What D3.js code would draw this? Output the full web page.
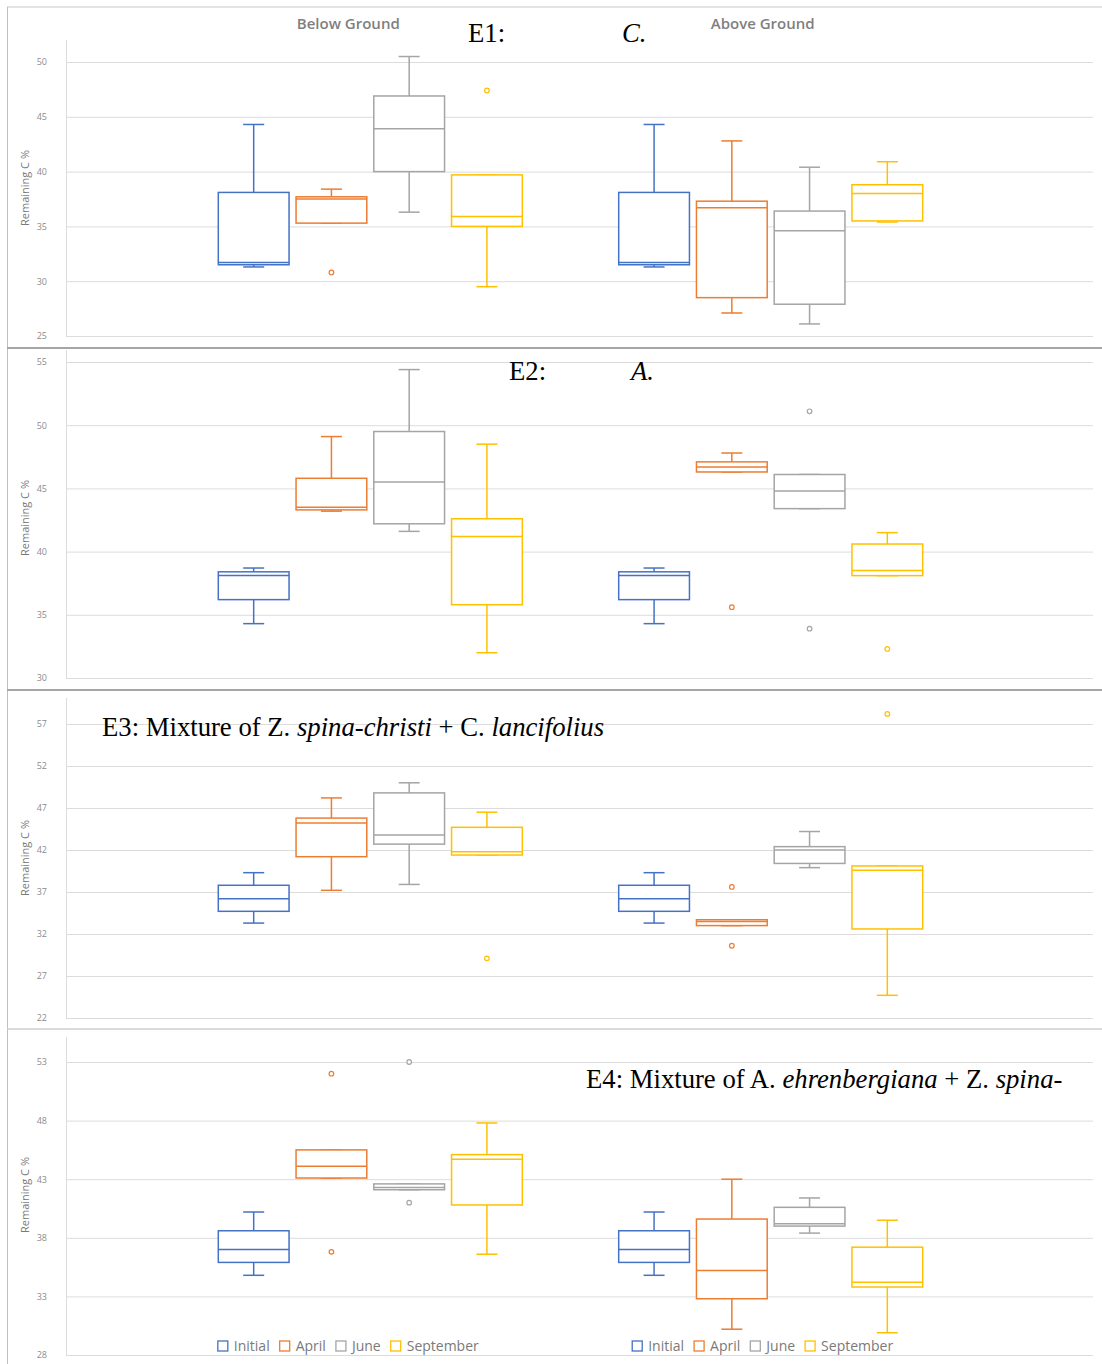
<!DOCTYPE html>
<html>
<head>
<meta charset="utf-8">
<script src="https://cdn.jsdelivr.net/npm/d3@7"></script>
<style>
  body { margin: 0; background: #fff; }
  svg { display: block; }
</style>
</head>
<body>
<svg id="chart" width="1102" height="1364"></svg>
<script>
// categories
const groups = ["Below Ground", "Above Ground"];
const months = ["Initial", "April", "June", "September"];
const monthColors = ["#4472C4", "#ED7D31", "#A5A5A5", "#FFC000"];

// each row: [low whisker, Q1, median, Q3, high whisker], one row per month
const e1Below = [[31.3, 31.5, 31.7, 38.1, 44.3], [35.3, 35.3, 37.5, 37.7, 38.4], [36.3, 40.0, 43.9, 46.9, 50.5], [29.5, 35.0, 35.9, 39.7, 39.7]];
const e1BelowOut = [[], [30.8], [], [47.4]];
const e1Above = [[31.3, 31.5, 31.7, 38.1, 44.3], [27.1, 28.5, 36.7, 37.3, 42.8], [26.1, 27.9, 34.6, 36.4, 40.4], [35.4, 35.5, 38.0, 38.8, 40.9]];
const e1AboveOut = [[], [], [], []];
const e1Ticks = [25, 30, 35, 40, 45, 50];

const e2Below = [[34.3, 36.2, 38.1, 38.4, 38.7], [43.2, 43.3, 43.5, 45.8, 49.1], [41.6, 42.2, 45.5, 49.5, 54.4], [32.0, 35.8, 41.2, 42.6, 48.5]];
const e2BelowOut = [[], [], [], []];
const e2Above = [[34.3, 36.2, 38.1, 38.4, 38.7], [46.3, 46.3, 46.7, 47.1, 47.8], [43.4, 43.4, 44.8, 46.1, 46.1], [38.1, 38.1, 38.5, 40.6, 41.5]];
const e2AboveOut = [[], [35.6], [51.1, 33.9], [32.3]];
const e2Ticks = [30, 35, 40, 45, 50, 55];

const e3Below = [[33.3, 34.7, 36.2, 37.8, 39.3], [37.2, 41.2, 45.2, 45.8, 48.2], [37.9, 42.7, 43.8, 48.8, 50.0], [41.4, 41.4, 41.8, 44.7, 46.5]];
const e3BelowOut = [[], [], [], [29.1]];
const e3Above = [[33.3, 34.7, 36.2, 37.8, 39.3], [33.0, 33.0, 33.5, 33.7, 33.7], [39.9, 40.4, 42.0, 42.4, 44.2], [24.7, 32.6, 39.6, 40.1, 40.1]];
const e3AboveOut = [[], [37.6, 30.6], [], [58.2]];
const e3Ticks = [22, 27, 32, 37, 42, 47, 52, 57];

const e4Below = [[34.8, 35.9, 37.0, 38.6, 40.2], [43.1, 43.1, 44.1, 45.5, 45.5], [42.1, 42.1, 42.3, 42.6, 42.6], [36.6, 40.8, 44.7, 45.1, 47.8]];
const e4BelowOut = [[], [52.0, 36.8], [53.0, 41.0], []];
const e4Above = [[34.8, 35.9, 37.0, 38.6, 40.2], [30.2, 32.8, 35.2, 39.6, 43.0], [38.4, 39.0, 39.2, 40.6, 41.4], [29.9, 33.8, 34.2, 37.2, 39.5]];
const e4AboveOut = [[], [], [], []];
const e4Ticks = [28, 33, 38, 43, 48, 53];

const yTitle = "Remaining C %";

// layout
const plotL = 66, plotR = 1093;
const headerShift = [-22, -8];
const panels = [
  { stats: [e1Below, e1Above], outs: [e1BelowOut, e1AboveOut], ticks: e1Ticks, yRange: [336, 62], axisTop: 40, labelY: 188,
    title: [{ x: 468, y: 42, runs: [["E1:", false]] }, { x: 622, y: 42, runs: [["C.", true]] }], headers: true, legend: false },
  { stats: [e2Below, e2Above], outs: [e2BelowOut, e2AboveOut], ticks: e2Ticks, yRange: [678, 362], axisTop: 350, labelY: 518,
    title: [{ x: 509, y: 380, runs: [["E2:", false]] }, { x: 631, y: 380, runs: [["A.", true]] }], headers: false, legend: false },
  { stats: [e3Below, e3Above], outs: [e3BelowOut, e3AboveOut], ticks: e3Ticks, yRange: [1018, 724], axisTop: 698, labelY: 858,
    title: [{ x: 102, y: 736, runs: [["E3: Mixture of Z. ", false], ["spina-christi", true], [" + C. ", false], ["lancifolius", true]] }], headers: false, legend: false },
  { stats: [e4Below, e4Above], outs: [e4BelowOut, e4AboveOut], ticks: e4Ticks, yRange: [1355, 1062], axisTop: 1037, labelY: 1195,
    title: [{ x: 586, y: 1088, runs: [["E4: Mixture of A. ", false], ["ehrenbergiana", true], [" + Z. ", false], ["spina-", true]] }], headers: false, legend: true }
];

const svg = d3.select("#chart");

const x = d3.scaleBand().domain(groups).range([plotL, plotR - 18]).paddingOuter(0.26);
const xm = d3.scaleBand().domain(months).range([-152, 152]).paddingInner(0.09);
const color = d3.scaleOrdinal().domain(months).range(monthColors);
const capW = 21;

// panel frames
svg.append("line").attr("x1", 7).attr("x2", 1102).attr("y1", 7).attr("y2", 7)
  .attr("stroke", "#c8c8c8").attr("stroke-width", 1);
svg.append("line").attr("x1", 7.5).attr("x2", 7.5).attr("y1", 7).attr("y2", 1364)
  .attr("stroke", "#c0c0c0").attr("stroke-width", 1);
[[348, "#a6a6a6", 2], [690, "#a6a6a6", 2], [1029, "#cfcfcf", 1.5]].forEach(d => {
  svg.append("line").attr("x1", 7).attr("x2", 1102).attr("y1", d[0]).attr("y2", d[0])
    .attr("stroke", d[1]).attr("stroke-width", d[2]);
});

panels.forEach(p => {
  const [lo, hi] = d3.extent(p.ticks);
  const y = d3.scaleLinear().domain([lo, hi]).range(p.yRange);
  const g = svg.append("g");

  // gridlines + tick labels
  const axis = g.append("g")
    .attr("transform", `translate(${plotL},0)`)
    .call(d3.axisLeft(y).tickValues(p.ticks).tickSize(-(plotR - plotL)).tickPadding(19));
  axis.select(".domain").remove();
  axis.selectAll(".tick line").attr("stroke", "#dcdcdc").attr("stroke-width", 1);
  axis.selectAll(".tick text")
    .attr("fill", "#8c8c8c")
    .style("font-family", "'Open Sans', sans-serif")
    .style("font-size", "9px");

  // vertical axis line
  g.append("line")
    .attr("x1", plotL + 0.5).attr("x2", plotL + 0.5)
    .attr("y1", p.axisTop).attr("y2", y(lo))
    .attr("stroke", "#dcdcdc");

  // y title
  g.append("text")
    .attr("transform", `translate(25,${p.labelY}) rotate(-90)`)
    .attr("text-anchor", "middle")
    .attr("dy", "0.35em")
    .attr("fill", "#7a7a7a")
    .style("font-family", "'Open Sans', sans-serif")
    .style("font-size", "11px")
    .text(yTitle);

  // boxes
  groups.forEach((grp, gi) => {
    const cx0 = x(grp) + x.bandwidth() / 2;
    months.forEach((m, mi) => {
      const s = p.stats[gi][mi];
      const col = color(m);
      const left = cx0 + xm(m);
      const cx = left + xm.bandwidth() / 2;
      const bg = g.append("g").attr("fill", "none").attr("stroke", col).attr("stroke-width", 1.5);
      // whiskers
      bg.append("line").attr("x1", cx).attr("x2", cx).attr("y1", y(s[3])).attr("y2", y(s[4]));
      bg.append("line").attr("x1", cx).attr("x2", cx).attr("y1", y(s[1])).attr("y2", y(s[0]));
      bg.append("line").attr("x1", cx - capW / 2).attr("x2", cx + capW / 2).attr("y1", y(s[4])).attr("y2", y(s[4]));
      bg.append("line").attr("x1", cx - capW / 2).attr("x2", cx + capW / 2).attr("y1", y(s[0])).attr("y2", y(s[0]));
      // box
      bg.append("rect")
        .attr("x", left).attr("width", xm.bandwidth())
        .attr("y", y(s[3])).attr("height", Math.max(1, y(s[1]) - y(s[3])))
        .attr("fill", "#fff");
      bg.append("line").attr("x1", left).attr("x2", left + xm.bandwidth())
        .attr("y1", y(s[2])).attr("y2", y(s[2]));
      // outliers
      bg.selectAll("circle").data(p.outs[gi][mi]).enter().append("circle")
        .attr("cx", cx).attr("cy", d => y(d)).attr("r", 2.3)
        .attr("fill", "#fff").attr("stroke-width", 1.2);
    });

    const hx = cx0 + headerShift[gi];
    if (p.headers) {
      g.append("text")
        .attr("x", hx).attr("y", 29)
        .attr("text-anchor", "middle")
        .attr("fill", "#7f7f7f")
        .style("font-family", "'Open Sans', sans-serif")
        .style("font-size", "15px")
        .style("font-weight", 600)
        .text(grp);
    }

    if (p.legend) {
      const lg = g.append("g").style("font-family", "'Open Sans', sans-serif").style("font-size", "14px");
      let cur = 0;
      months.forEach(m => {
        const it = lg.append("g");
        it.append("rect").attr("width", 10).attr("height", 10).attr("y", -5)
          .attr("fill", "#fff").attr("stroke", color(m)).attr("stroke-width", 1.3);
        const t = it.append("text").attr("x", 16).attr("dy", "0.35em").attr("fill", "#7a7a7a").text(m);
        const w = 16 + t.node().getComputedTextLength();
        it.attr("transform", `translate(${cur},0)`);
        cur += w + 10;
      });
      const total = cur - 10;
      lg.attr("transform", `translate(${hx - total / 2},1346)`);
    }
  });

  // panel title (serif, mixed italic)
  p.title.forEach(t => {
    const tx = g.append("text")
      .attr("x", t.x).attr("y", t.y)
      .attr("fill", "#000")
      .style("font-family", "'Liberation Serif', 'Times New Roman', serif")
      .style("font-size", "26.7px");
    t.runs.forEach(r => {
      tx.append("tspan").style("font-style", r[1] ? "italic" : "normal").text(r[0]);
    });
  });
});
</script>
</body>
</html>
